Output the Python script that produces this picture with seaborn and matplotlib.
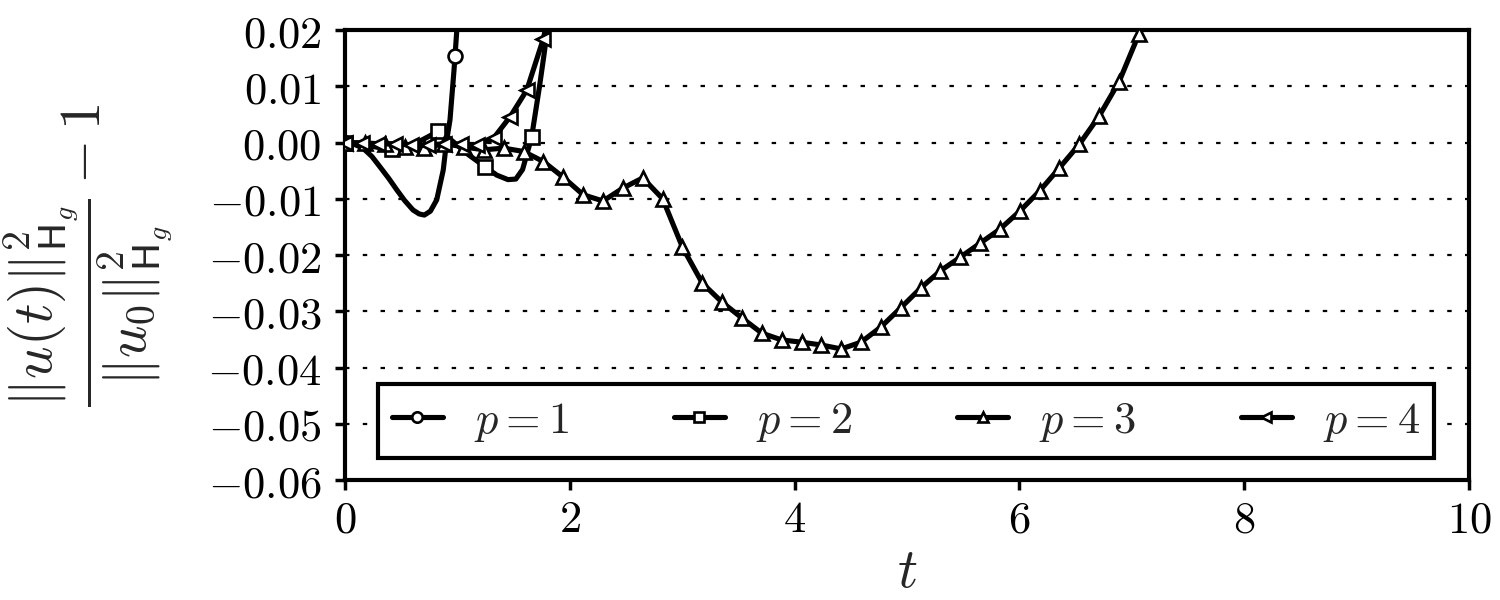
import numpy as np
import pandas as pd
import seaborn as sns
import matplotlib.pyplot as plt
from matplotlib.ticker import FuncFormatter, MultipleLocator

# values
t_p1 = [0.0, 0.08, 0.16, 0.24, 0.31, 0.39, 0.46, 0.53, 0.605, 0.66, 0.706, 0.76, 0.816, 0.874, 0.905, 0.934, 0.97, 0.979, 1.0]
v_p1 = [0.0, -0.0003, -0.001, -0.0025, -0.0043, -0.0064, -0.0084, -0.0103, -0.0120, -0.0127, -0.0129, -0.0122, -0.0102, -0.0049, 0.0004, 0.0040, 0.0129, 0.0154, 0.0215]
mark_p1 = [0, 17]

t_p2 = [0.0, 0.1, 0.2, 0.3, 0.415, 0.5, 0.6, 0.7, 0.83, 0.9, 1.0, 1.1, 1.245, 1.35, 1.45, 1.52, 1.58, 1.66, 1.73, 1.77, 1.81]
v_p2 = [0.0, -0.0002, -0.0005, -0.0009, -0.0012, -0.0010, -0.0004, 0.0006, 0.0020, 0.0012, -0.0005, -0.0022, -0.0043, -0.0058, -0.0066, -0.0065, -0.0048, 0.0009, 0.0099, 0.0155, 0.0215]
mark_p2 = [0, 4, 8, 12, 17]

t_p3 = [0.0, 0.177, 0.353, 0.53, 0.707, 0.883, 1.06, 1.236, 1.413, 1.589, 1.766, 1.943, 2.12, 2.296,
        2.473, 2.649, 2.826, 3.002, 3.179, 3.355, 3.532, 3.709, 3.885, 4.062, 4.238, 4.415, 4.591,
        4.768, 4.944, 5.121, 5.298, 5.474, 5.651, 5.827, 6.004, 6.181, 6.357, 6.534, 6.71, 6.887, 7.064, 7.1]
v_p3 = [0.0, -0.0001, -0.0003, -0.00075, -0.001, -0.0002, -0.0008, -0.0013, -0.001, -0.0016, -0.0034, -0.0062, -0.0093, -0.0104,
        -0.0081, -0.0063, -0.0100, -0.0186, -0.0250, -0.0284, -0.0312, -0.0339, -0.0351, -0.0355, -0.0360, -0.0367, -0.0355,
        -0.0328, -0.0294, -0.0259, -0.0228, -0.0204, -0.0179, -0.0154, -0.0122, -0.0086, -0.0045, -0.0003, 0.0047, 0.0108, 0.0193, 0.0215]
mark_p3 = list(range(41))

t_p4 = [0.0, 0.147, 0.294, 0.441, 0.588, 0.735, 0.882, 1.029, 1.176, 1.323, 1.47, 1.617, 1.764, 1.82]
v_p4 = [0.0, -0.0001, -0.0002, -0.0003, -0.0004, -0.0005, -0.0002, -0.0003, -0.0005, 0.0008, 0.0046, 0.0093, 0.0184, 0.0235]
mark_p4 = list(range(13))

labels = ['$p=1$', '$p=2$', '$p=3$', '$p=4$']
y_ticks = [0.02, 0.01, 0.0, -0.01, -0.02, -0.03, -0.04, -0.05, -0.06]

sns.set_theme(style='white')
plt.rcParams['mathtext.fontset'] = 'cm'
plt.rcParams['font.family'] = ['DejaVu Serif']

fig = plt.figure(figsize=(15, 6), dpi=100)
ax = fig.add_axes([0.23, 0.2, 0.7493, 0.75])

series = [(t_p1, v_p1, mark_p1, 'o', 10),
          (t_p2, v_p2, mark_p2, 's', 9.5),
          (t_p3, v_p3, mark_p3, '^', 10.5),
          (t_p4, v_p4, mark_p4, '<', 10.5)]
for (t, v, mk, m, ms), lab in zip(series, labels):
    df = pd.DataFrame({'t': t, 'v': v})
    sns.lineplot(data=df, x='t', y='v', ax=ax, color='black', lw=3.7, marker=m, markersize=ms,
                 markerfacecolor='white', markeredgecolor='black', markeredgewidth=1.9,
                 markevery=mk, sort=False, estimator=None, label=lab, zorder=3)

ax.set_xlim(0, 10)
ax.set_ylim(-0.06, 0.02)
ax.xaxis.set_major_locator(MultipleLocator(2))
ax.set_yticks(y_ticks)
ax.xaxis.set_major_formatter(FuncFormatter(lambda x, p: '$%d$' % round(x)))
ax.yaxis.set_major_formatter(FuncFormatter(lambda y, p: '$%.2f$' % (round(y, 2) + 0.0)))
ax.tick_params(axis='both', which='major', labelsize=32, length=7, width=2.5, direction='out',
               bottom=True, left=True, top=False, right=False, colors='black')
ax.tick_params(axis='y', pad=10)
ax.tick_params(axis='x', pad=6)
ax.grid(axis='y', color='black', linestyle=(0, (2, 6)), linewidth=1.6)
ax.set_axisbelow(True)
for s in ax.spines.values():
    s.set_linewidth(3)
    s.set_color('black')

ax.set_xlabel('$t$', fontsize=40, labelpad=2)
ax.set_ylabel(r'$\dfrac{\Vert u(t)\Vert^2_{\mathsf{H}_g}}{\Vert u_0\Vert^2_{\mathsf{H}_g}} - 1$', fontsize=41, labelpad=24)

leg = ax.legend(loc='lower left', bbox_to_anchor=(0.029, 0.049, 0.94, 0.173), mode='expand',
                ncol=4, fontsize=32, frameon=True, fancybox=False, framealpha=1,
                edgecolor='black', handlelength=1.15, handletextpad=0.7, borderaxespad=0,
                borderpad=0.32, markerscale=0.75)
leg.get_frame().set_linewidth(3)

fig.savefig('out.png', dpi=100)
